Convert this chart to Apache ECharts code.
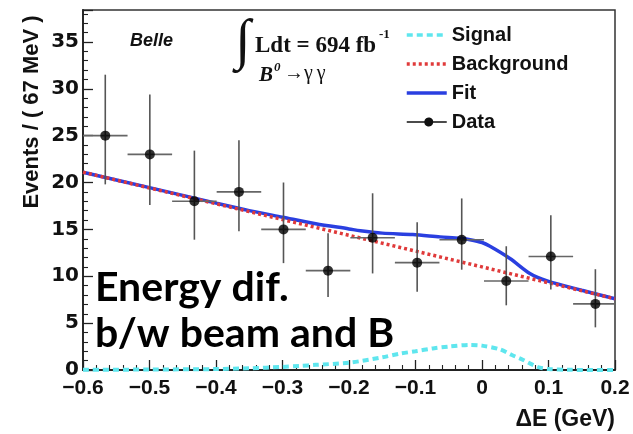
<!DOCTYPE html>
<html>
<head>
<meta charset="utf-8">
<script src="https://cdn.jsdelivr.net/npm/echarts@6/dist/echarts.min.js"></script>
<style>html,body{margin:0;padding:0;background:#fff;}#c{width:633px;height:434px;}</style>
</head>
<body>
<div id="c"></div>
<script>
// ---- data ----
const binCenters = [-0.5665, -0.4995, -0.4325, -0.3655, -0.2985, -0.2315, -0.1645, -0.0975, -0.0305, 0.0365, 0.1035, 0.1705];
const counts     = [25.0, 23.0, 18.0, 19.0, 15.0, 10.6, 14.1, 11.45, 13.9, 9.5, 12.1, 7.05];
const errLow     = [19.8, 17.6, 13.9, 14.8, 11.4, 7.8, 10.3, 8.35, 10.7, 6.9, 8.6, 4.55];
const errHigh    = [31.5, 29.4, 23.4, 24.5, 20.0, 14.6, 18.85, 15.75, 18.3, 13.2, 16.5, 10.75];
const binHalfWidth = 0.0335;

const signalCurve = [[-0.6,0.02],[-0.5,0.05],[-0.4,0.1],[-0.35,0.18],[-0.3,0.33],[-0.274,0.43],[-0.25,0.55],[-0.2,0.78],[-0.15,1.35],[-0.123,1.75],[-0.1,2.0],[-0.074,2.3],[-0.05,2.5],[-0.018,2.67],[0.0,2.6],[0.027,2.2],[0.045,1.6],[0.062,1.07],[0.075,0.6],[0.087,0.25],[0.1,0.1],[0.13,0.02],[0.2,0.0]];
const backgroundCurve = [[-0.6,21.1],[-0.3,16.05],[0.0,11.0],[0.2,7.6]];
const fitCurve = [[-0.6,21.1],[-0.5,19.45],[-0.4,17.8],[-0.35,17.0],[-0.3,16.3],[-0.25,15.6],[-0.2,15.05],[-0.183,14.85],[-0.15,14.6],[-0.104,14.45],[-0.063,14.2],[-0.033,14.05],[-0.018,13.9],[0.0,13.6],[0.012,13.2],[0.042,11.9],[0.072,10.3],[0.098,9.5],[0.15,8.5],[0.2,7.6]];

const xTicks = {min: -0.6, max: 0.2, interval: 0.1};
const yTicks = {min: 0, max: 38.4, interval: 5};

const chart = echarts.init(document.getElementById('c'), null, {renderer: 'canvas'});

const errData = binCenters.map((x, i) => [x, counts[i], errLow[i], errHigh[i]]);
const pointData = binCenters.map((x, i) => [x, counts[i]]);

const dataIcon = 'path://M0,6.2H17.57A4.5,4.5,0,0,1,26.43,6.2H40V7.8H26.43A4.5,4.5,0,0,1,17.57,7.8H0Z';
const noMarker = {color: 'rgba(0,0,0,0)', borderWidth: 0, opacity: 0};

chart.setOption({
  animation: false,
  backgroundColor: '#fff',
  grid: {left: 83, right: 18, top: 10, bottom: 64, show: true, borderColor: '#333', borderWidth: 1.5, backgroundColor: 'transparent'},
  legend: {
    orient: 'vertical', left: 405, top: 25, padding: 0, itemWidth: 40, itemHeight: 14, itemGap: 9,
    lineStyle: {width: 3.5},
    textStyle: {fontFamily: 'Liberation Sans', fontWeight: 'bold', fontSize: 20, color: '#111'},
    data: [
      {name: 'Signal', itemStyle: noMarker},
      {name: 'Background', itemStyle: noMarker},
      {name: 'Fit', itemStyle: noMarker},
      {name: 'Data', icon: dataIcon, itemStyle: {color: '#111'}}
    ]
  },
  xAxis: {
    type: 'value', min: xTicks.min, max: xTicks.max, interval: xTicks.interval,
    axisLine: {show: true, onZero: false, lineStyle: {color: '#222', width: 1.8}},
    axisTick: {show: true, inside: true, length: 10, lineStyle: {color: '#222', width: 1.3}},
    minorTick: {show: true, splitNumber: 5, length: 5, lineStyle: {color: '#222', width: 1.1}},
    splitLine: {show: false},
    axisLabel: {margin: 8, color: '#111', fontFamily: 'Liberation Sans', fontWeight: 'bold', fontSize: 21,
      formatter: v => { const r = Math.round(v * 10) / 10; return r < 0 ? '\u2212' + Math.abs(r).toFixed(1) : (r === 0 ? '0' : r.toFixed(1)); }}
  },
  yAxis: {
    type: 'value', min: yTicks.min, max: yTicks.max, interval: yTicks.interval,
    axisLine: {show: true, onZero: false, lineStyle: {color: '#222', width: 1.8}},
    axisTick: {show: true, inside: true, length: 10, lineStyle: {color: '#222', width: 1.3}},
    minorTick: {show: true, splitNumber: 5, length: 5, lineStyle: {color: '#222', width: 1.1}},
    splitLine: {show: false},
    axisLabel: {margin: 4, color: '#111', fontFamily: 'DejaVu Sans', fontWeight: 'bold', fontSize: 20, showMaxLabel: false}
  },
  series: [
    {
      name: 'Fit', type: 'line', data: fitCurve, symbol: 'none', smooth: 0.3, z: 3,
      lineStyle: {color: '#2a3fe0', width: 3.5, type: 'solid'}, itemStyle: {color: '#2a3fe0'}
    },
    {
      name: 'Background', type: 'line', data: backgroundCurve, symbol: 'none', z: 4,
      lineStyle: {color: '#e03a3a', width: 3.5, type: [3, 3]}, itemStyle: {color: '#e03a3a'}
    },
    {
      name: 'Signal', type: 'line', data: signalCurve, symbol: 'none', smooth: 0.3, z: 4,
      lineStyle: {color: '#5fe6ee', width: 4, type: [6, 4]}, itemStyle: {color: '#5fe6ee'}
    },
    {
      name: 'Data', type: 'custom', clip: true, z: 5, data: errData,
      renderItem: function (params, api) {
        const x = api.value(0), y = api.value(1), lo = api.value(2), hi = api.value(3);
        const c = api.coord([x, y]);
        const t = api.coord([x, hi]);
        const b = api.coord([x, lo]);
        const l = api.coord([x - binHalfWidth, y]);
        const r = api.coord([x + binHalfWidth, y]);
        return {type: 'group', children: [
          {type: 'line', shape: {x1: c[0], y1: t[1], x2: c[0], y2: b[1]}, style: {stroke: '#555', lineWidth: 1.6}},
          {type: 'line', shape: {x1: l[0], y1: c[1], x2: r[0], y2: c[1]}, style: {stroke: '#666', lineWidth: 1.6}}
        ]};
      },
      itemStyle: {color: '#111'}
    },
    {
      name: 'Data', type: 'scatter', data: pointData, symbol: 'circle', symbolSize: 10, z: 6,
      itemStyle: {color: '#000'}
    }
  ],
  graphic: [
    {type: 'text', left: 130, top: 32, style: {text: 'Belle', font: 'italic bold 18px "Liberation Sans"', fill: '#111'}},
    {type: 'text', left: 235, top: 16, style: {text: '\u222B', font: 'bold 56px "Liberation Serif"', fill: '#111'}},
    {type: 'text', left: 255, top: 35, style: {text: 'Ldt = 694 fb', font: 'bold 23px "Liberation Serif"', fill: '#111'}},
    {type: 'text', left: 379, top: 28, style: {text: '-1', font: 'bold 13px "Liberation Serif"', fill: '#111'}},
    {type: 'text', left: 259, top: 65, style: {text: 'B', font: 'italic bold 21px "Liberation Serif"', fill: '#111'}},
    {type: 'text', left: 274, top: 61, style: {text: '0', font: 'italic bold 13px "Liberation Serif"', fill: '#111'}},
    {type: 'text', left: 284, top: 64, style: {text: '\u2192\u03B3\u2009\u03B3', font: '20px "Liberation Serif"', fill: '#111'}},
    {type: 'text', left: 95, top: 267, style: {text: 'Energy dif.', font: 'bold 41px Lato', fill: '#000'}},
    {type: 'text', left: 95, top: 313, style: {text: 'b/w beam and B', font: 'bold 41px Lato', fill: '#000'}},
    {type: 'text', right: 18, top: 408, style: {text: '\u0394E (GeV)', font: 'bold 23px "Liberation Sans"', fill: '#111'}},
    {type: 'text', x: 32, y: 112, rotation: Math.PI / 2, style: {text: 'Events / ( 67 MeV )', font: 'bold 22px "Liberation Sans"', fill: '#111', align: 'center', verticalAlign: 'middle'}}
  ]
});
</script>
</body>
</html>
